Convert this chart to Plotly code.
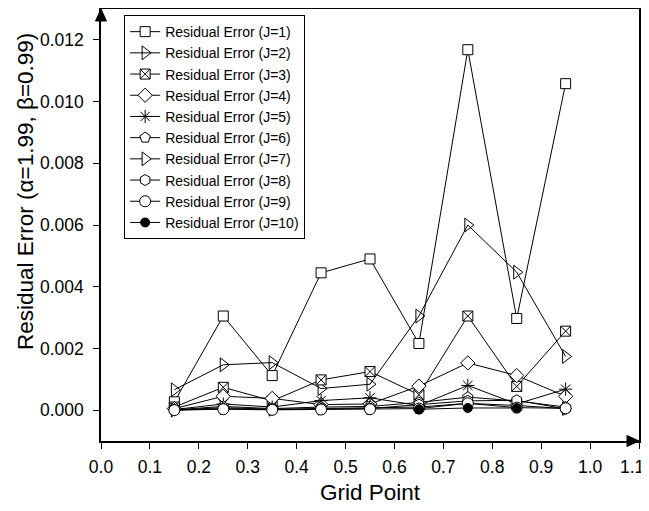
import plotly.graph_objects as go

grid_x = [0.15, 0.25, 0.35, 0.45, 0.55, 0.65, 0.75, 0.85, 0.95]
series_names = [f"Residual Error (J={j})" for j in range(1, 11)]
J1 = [0.00027, 0.00305, 0.00112, 0.00445, 0.0049, 0.00216, 0.01168, 0.00297, 0.01058]
J2 = [0.00066, 0.00147, 0.00154, 0.0007, 0.00084, 0.00305, 0.0060, 0.00447, 0.00174]
J3 = [0.0001, 0.00074, 0.0003, 0.00098, 0.00125, 0.0005, 0.00305, 0.00077, 0.00256]
J4 = [0.00005, 0.00045, 0.00038, 0.00018, 0.0002, 0.00078, 0.00153, 0.00112, 0.00045]
J5 = [0.00002, 0.0002, 0.0001, 0.00031, 0.0004, 0.00015, 0.0008, 0.0002, 0.00068]
J6 = [0.00001, 0.00012, 0.00005, 0.0001, 0.00012, 0.00025, 0.00042, 0.0003, 0.0001]
J7 = [0.0, 0.00008, 0.00003, 0.00006, 0.00008, 0.0001, 0.00022, 0.00015, 0.00005]
J8 = [0.0, 0.00005, 0.00002, 0.00004, 0.00005, 0.00018, 0.0003, 0.00032, 0.00004]
J9 = [0.0, 0.00003, 0.00001, 0.00002, 0.00003, 0.00005, 0.00022, 0.00008, 0.00006]
J10 = [None, None, None, None, None, 0.00003, 0.00007, 0.00007, None]

x_ticks = [i / 10 for i in range(12)]
x_tick_labels = [f"{v:.1f}" for v in x_ticks]
y_ticks = [0, 0.002, 0.004, 0.006, 0.008, 0.010, 0.012]
y_tick_labels = ["0.000", "0.002", "0.004", "0.006", "0.008", "0.010", "0.012"]
x_title = "Grid Point"
y_title = "Residual Error (α=1.99, β=0.99)"

all_series = [J1, J2, J3, J4, J5, J6, J7, J8, J9, J10]
symbols = ["square", "triangle-right-open", "square-x", "diamond", "asterisk-open",
           "pentagon", "triangle-right", "hexagon", "circle", "circle"]
sizes = [10, 12, 10, 11, 11, 11, 12, 11, 11, 9]
fills = ["white"] * 9 + ["black"]

fig = go.Figure()
for name, ys, sym, sz, fc in zip(series_names, all_series, symbols, sizes, fills):
    fig.add_trace(go.Scatter(
        x=grid_x, y=ys, name=name, mode="lines+markers",
        line=dict(color="black", width=1),
        marker=dict(symbol=sym, size=sz, color=fc if not sym.endswith("open") else "black",
                    line=dict(color="black", width=1)),
        connectgaps=False,
    ))

W, H = 641, 503
ML, MR, MT, MB = 93, 10, 1, 70
pw, ph = float(W - ML - MR), float(H - MT - MB)
font_family = "Arial, Liberation Sans, sans-serif"
tick_size = 17.5

# the last x tick label sits at the page edge: draw it as a right-anchored text
shown_x_labels = x_tick_labels[:-1] + [""]

fig.update_layout(
    width=W, height=H,
    margin=dict(l=ML, r=MR, t=MT, b=MB, autoexpand=False),
    paper_bgcolor="white", plot_bgcolor="white",
    font=dict(family=font_family, color="black"),
    showlegend=True,
    legend=dict(x=0.043, y=0.986, xanchor="left", yanchor="top",
                bordercolor="black", borderwidth=1, bgcolor="white",
                font=dict(size=14, family=font_family), tracegroupgap=0,
                itemwidth=30),
    xaxis=dict(range=[0, 1.1], tickvals=x_ticks, ticktext=shown_x_labels,
               automargin=False,
               showgrid=False, zeroline=False, showline=True, linecolor="black",
               linewidth=1.5, mirror=True, ticks="outside", ticklen=6, tickcolor="black",
               ticklabelstandoff=3,
               tickfont=dict(size=tick_size), title=dict(text=x_title, font=dict(size=22.5), standoff=8)),
    yaxis=dict(range=[-0.001, 0.013], tickvals=y_ticks, ticktext=y_tick_labels,
               automargin=False,
               showgrid=False, zeroline=False, showline=True, linecolor="black",
               linewidth=1.5, mirror=True, ticks="outside", ticklen=6, tickcolor="black",
               ticklabelstandoff=6,
               tickfont=dict(size=tick_size)),
)

fig.add_annotation(text=x_tick_labels[-1], showarrow=False,
                   xref="x", yref="paper", x=x_ticks[-1], y=0,
                   xanchor="right", yanchor="top", xshift=7, yshift=-14,
                   font=dict(size=tick_size, family=font_family, color="black"))

# y-axis title as rotated text placed where the reference has it
fig.add_annotation(text=y_title, textangle=-90, showarrow=False,
                   xref="paper", yref="paper",
                   x=(17 - ML) / pw, y=1 - (184 - MT) / ph,
                   xanchor="center", yanchor="middle",
                   font=dict(size=22.5, family=font_family, color="black"))

# axis arrowheads
aw, al = 5.5 / pw, 12.0 / ph
fig.add_shape(type="path", xref="paper", yref="paper",
              path=f"M 0,1 L {-aw},{1 - al} L {aw},{1 - al} Z",
              fillcolor="black", line=dict(color="black", width=1))
aw2, al2 = 12.0 / pw, 5.5 / ph
fig.add_shape(type="path", xref="paper", yref="paper",
              path=f"M 1,0 L {1 - aw2},{al2} L {1 - aw2},{-al2} Z",
              fillcolor="black", line=dict(color="black", width=1))

fig.write_html("out.html")
